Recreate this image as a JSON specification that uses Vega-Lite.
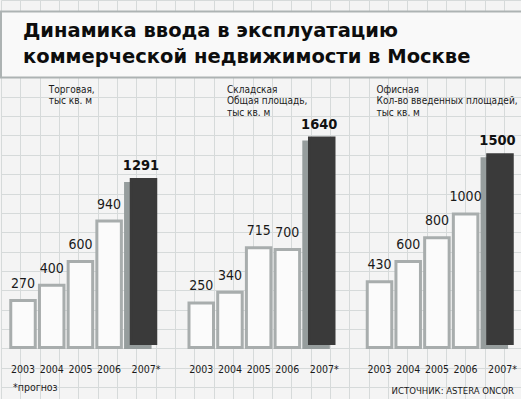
{
  "$schema": "https://vega.github.io/schema/vega-lite/v6.json",
  "padding": 0,
  "width": 521,
  "height": 399,
  "background": "#f4f4f4",
  "config": {"view": {"stroke": null, "fill": "#f4f4f4"}},
  "datasets": {
    "bars": [
      {"panel": "Т", "year": "2003", "value": 270},
      {"panel": "Т", "year": "2004", "value": 400},
      {"panel": "Т", "year": "2005", "value": 600},
      {"panel": "Т", "year": "2006", "value": 940},
      {"panel": "Т", "year": "2007*", "value": 1291},
      {"panel": "С", "year": "2003", "value": 250},
      {"panel": "С", "year": "2004", "value": 340},
      {"panel": "С", "year": "2005", "value": 715},
      {"panel": "С", "year": "2006", "value": 700},
      {"panel": "С", "year": "2007*", "value": 1640},
      {"panel": "О", "year": "2003", "value": 430},
      {"panel": "О", "year": "2004", "value": 600},
      {"panel": "О", "year": "2005", "value": 800},
      {"panel": "О", "year": "2006", "value": 1000},
      {"panel": "О", "year": "2007*", "value": 1500}
    ],
    "captions": [
      {"panel": "Т", "year": "2004", "caption": "Торговая,\nтыс кв. м"},
      {"panel": "С", "year": "2004", "caption": "Складская\nОбщая площадь,\nтыс кв. м"},
      {"panel": "О", "year": "2003", "caption": "Офисная\nКол-во введенных площадей,\nтыс кв. м"}
    ],
    "heading": [
      {"panel": "Т", "year": "2003", "title": "Динамика ввода в эксплуатацию\nкоммерческой недвижимости в Москве"}
    ],
    "notes": [
      {"panel": "Т", "year": "2003", "note": "*прогноз"}
    ],
    "source": [
      {"panel": "О", "year": "2007*", "note": "ИСТОЧНИК: ASTERA ONCOR"}
    ]
  },
  "resolve": {
    "scale": {"x": "independent", "y": "independent", "xOffset": "independent"},
    "axis": {"x": "independent", "y": "independent"}
  },
  "layer": [
    {
      "data": {"values": [{}]},
      "mark": {"type": "point", "opacity": 0, "size": 0, "strokeWidth": 0},
      "encoding": {
        "x": {"datum": 13, "type": "quantitative", "scale": {"domain": [0, 26.93], "nice": false, "zero": false},
              "axis": {"grid": true, "gridColor": "#d6dada", "gridWidth": 1, "labels": false, "ticks": false, "domain": false, "title": null, "tickCount": 27, "orient": "top"}},
        "y": {"datum": 10, "type": "quantitative", "scale": {"domain": [0, 20.62], "nice": false, "zero": false, "reverse": true},
              "axis": {"grid": true, "gridColor": "#d6dada", "gridWidth": 1, "labels": false, "ticks": false, "domain": false, "title": null, "tickCount": 21}}
      }
    },
    {
      "data": {"name": "heading"},
      "mark": {"type": "rect", "fill": "#f9f9f9", "stroke": "#adb3b3", "strokeWidth": 2, "xOffset": 8.5, "x2Offset": -8.5},
      "encoding": {
        "y": {"datum": 2706, "type": "quantitative", "scale": {"domain": [-559, 2803], "nice": false, "zero": false}, "axis": null},
        "y2": {"datum": 2150}
      }
    },
    {
      "data": {"name": "heading"},
      "mark": {"type": "text", "font": "DejaVu Sans", "fontWeight": "bold", "fontSize": 19.5, "lineBreak": "\n", "lineHeight": 26, "align": "left", "dx": 0, "baseline": "alphabetic", "color": "#0d0d0d"},
      "encoding": {
        "x": {"field": "panel", "type": "nominal", "scale": {"type": "band", "domain": ["Т", "С", "О"], "paddingInner": 0.1865, "paddingOuter": 0.0547}, "axis": null},
        "xOffset": {"field": "year", "type": "nominal", "scale": {"type": "band", "domain": ["2003", "2004", "2005", "2006", "2007*"], "paddingInner": 0.146, "paddingOuter": 0.099, "align": 0}},
        "y": {"datum": 2491, "type": "quantitative", "scale": {"domain": [-559, 2803], "nice": false, "zero": false}, "axis": null},
        "text": {"field": "title", "type": "nominal"}
      }
    },
    {
      "data": {"name": "bars"},
      "transform": [{"filter": "datum.year != '2007*'"}],
      "mark": {"type": "bar", "fill": "#fbfbfb", "stroke": "#a8adad", "strokeWidth": 3},
      "encoding": {
        "x": {"field": "panel", "type": "nominal", "scale": {"type": "band", "domain": ["Т", "С", "О"], "paddingInner": 0.1865, "paddingOuter": 0.0547}, "axis": null},
        "xOffset": {"field": "year", "type": "nominal", "scale": {"type": "band", "domain": ["2003", "2004", "2005", "2006", "2007*"], "paddingInner": 0.146, "paddingOuter": 0.099, "align": 0}},
        "y": {"field": "value", "type": "quantitative", "scale": {"domain": [-559, 2803], "nice": false, "zero": false}, "axis": null},
        "y2": {"datum": -125}
      }
    },
    {
      "data": {"name": "bars"},
      "transform": [{"filter": "datum.year == '2007*'"}],
      "mark": {"type": "bar", "fill": "#969d9d", "stroke": "#969d9d", "strokeWidth": 3, "yOffset": 4},
      "encoding": {
        "x": {"field": "panel", "type": "nominal", "scale": {"type": "band", "domain": ["Т", "С", "О"], "paddingInner": 0.1865, "paddingOuter": 0.0547}, "axis": null},
        "xOffset": {"field": "year", "type": "nominal", "scale": {"type": "band", "domain": ["2003", "2004", "2005", "2006", "2007*"], "paddingInner": 0.146, "paddingOuter": 0.099, "align": 0}},
        "y": {"field": "value", "type": "quantitative", "scale": {"domain": [-559, 2803], "nice": false, "zero": false}, "axis": null},
        "y2": {"datum": -125}
      }
    },
    {
      "data": {"name": "bars"},
      "transform": [{"filter": "datum.year == '2007*'"}],
      "mark": {"type": "bar", "fill": "#3a3a3a", "stroke": "#3a3a3a", "strokeWidth": 3, "y2Offset": -4},
      "encoding": {
        "x": {"field": "panel", "type": "nominal", "scale": {"type": "band", "domain": ["Т", "С", "О"], "paddingInner": 0.1865, "paddingOuter": 0.0547}, "axis": null},
        "xOffset": {"field": "year", "type": "nominal", "scale": {"type": "band", "domain": ["2003", "2004", "2005", "2006", "2007*"], "paddingInner": 0.146, "paddingOuter": 0.099, "align": 1}},
        "y": {"field": "value", "type": "quantitative", "scale": {"domain": [-559, 2803], "nice": false, "zero": false}, "axis": null},
        "y2": {"datum": -125}
      }
    },
    {
      "data": {"name": "bars"},
      "transform": [{"filter": "datum.year != '2007*'"}],
      "mark": {"type": "text", "font": "DejaVu Sans Condensed", "fontSize": 14, "dy": -12.5, "baseline": "alphabetic", "color": "#1a1a1a"},
      "encoding": {
        "x": {"field": "panel", "type": "nominal", "scale": {"type": "band", "domain": ["Т", "С", "О"], "paddingInner": 0.1865, "paddingOuter": 0.0547}, "axis": null},
        "xOffset": {"field": "year", "type": "nominal", "scale": {"type": "band", "domain": ["2003", "2004", "2005", "2006", "2007*"], "paddingInner": 0.146, "paddingOuter": 0.099, "align": 0}},
        "y": {"field": "value", "type": "quantitative", "scale": {"domain": [-559, 2803], "nice": false, "zero": false}, "axis": null},
        "text": {"field": "value", "type": "quantitative"}
      }
    },
    {
      "data": {"name": "bars"},
      "transform": [{"filter": "datum.year == '2007*'"}],
      "mark": {"type": "text", "font": "DejaVu Sans Condensed", "fontWeight": "bold", "fontSize": 14.5, "dx": -2.5, "dy": -9.5, "baseline": "alphabetic", "color": "#111111"},
      "encoding": {
        "x": {"field": "panel", "type": "nominal", "scale": {"type": "band", "domain": ["Т", "С", "О"], "paddingInner": 0.1865, "paddingOuter": 0.0547}, "axis": null},
        "xOffset": {"field": "year", "type": "nominal", "scale": {"type": "band", "domain": ["2003", "2004", "2005", "2006", "2007*"], "paddingInner": 0.146, "paddingOuter": 0.099, "align": 1}},
        "y": {"field": "value", "type": "quantitative", "scale": {"domain": [-559, 2803], "nice": false, "zero": false}, "axis": null},
        "text": {"field": "value", "type": "quantitative"}
      }
    },
    {
      "data": {"name": "bars"},
      "transform": [{"filter": "datum.year != '2007*'"}],
      "mark": {"type": "text", "font": "DejaVu Sans Condensed", "fontSize": 10.5, "dy": 25.5, "baseline": "alphabetic", "color": "#1a1a1a"},
      "encoding": {
        "x": {"field": "panel", "type": "nominal", "scale": {"type": "band", "domain": ["Т", "С", "О"], "paddingInner": 0.1865, "paddingOuter": 0.0547}, "axis": null},
        "xOffset": {"field": "year", "type": "nominal", "scale": {"type": "band", "domain": ["2003", "2004", "2005", "2006", "2007*"], "paddingInner": 0.146, "paddingOuter": 0.099, "align": 0}},
        "y": {"datum": -125, "type": "quantitative", "scale": {"domain": [-559, 2803], "nice": false, "zero": false}, "axis": null},
        "text": {"field": "year", "type": "nominal"}
      }
    },
    {
      "data": {"name": "bars"},
      "transform": [{"filter": "datum.year == '2007*'"}],
      "mark": {"type": "text", "font": "DejaVu Sans Condensed", "fontSize": 10.5, "dx": 2.5, "dy": 25.5, "baseline": "alphabetic", "color": "#1a1a1a"},
      "encoding": {
        "x": {"field": "panel", "type": "nominal", "scale": {"type": "band", "domain": ["Т", "С", "О"], "paddingInner": 0.1865, "paddingOuter": 0.0547}, "axis": null},
        "xOffset": {"field": "year", "type": "nominal", "scale": {"type": "band", "domain": ["2003", "2004", "2005", "2006", "2007*"], "paddingInner": 0.146, "paddingOuter": 0.099, "align": 1}},
        "y": {"datum": -125, "type": "quantitative", "scale": {"domain": [-559, 2803], "nice": false, "zero": false}, "axis": null},
        "text": {"field": "year", "type": "nominal"}
      }
    },
    {
      "data": {"name": "captions"},
      "mark": {"type": "text", "font": "DejaVu Sans Condensed", "fontSize": 10, "align": "left", "dx": -3, "baseline": "alphabetic", "lineBreak": "\n", "lineHeight": 11.5, "color": "#1a1a1a"},
      "encoding": {
        "x": {"field": "panel", "type": "nominal", "scale": {"type": "band", "domain": ["Т", "С", "О"], "paddingInner": 0.1865, "paddingOuter": 0.0547}, "axis": null},
        "xOffset": {"field": "year", "type": "nominal", "scale": {"type": "band", "domain": ["2003", "2004", "2005", "2006", "2007*"], "paddingInner": 0.146, "paddingOuter": 0.099, "align": 0}},
        "y": {"datum": 2020, "type": "quantitative", "scale": {"domain": [-559, 2803], "nice": false, "zero": false}, "axis": null},
        "text": {"field": "caption", "type": "nominal"}
      }
    },
    {
      "data": {"name": "notes"},
      "mark": {"type": "text", "font": "DejaVu Sans Condensed", "fontSize": 10.5, "align": "left", "dx": -10, "dy": 43.5, "baseline": "alphabetic", "color": "#1a1a1a"},
      "encoding": {
        "x": {"field": "panel", "type": "nominal", "scale": {"type": "band", "domain": ["Т", "С", "О"], "paddingInner": 0.1865, "paddingOuter": 0.0547}, "axis": null},
        "xOffset": {"field": "year", "type": "nominal", "scale": {"type": "band", "domain": ["2003", "2004", "2005", "2006", "2007*"], "paddingInner": 0.146, "paddingOuter": 0.099, "align": 0}},
        "y": {"datum": -125, "type": "quantitative", "scale": {"domain": [-559, 2803], "nice": false, "zero": false}, "axis": null},
        "text": {"field": "note", "type": "nominal"}
      }
    },
    {
      "data": {"name": "source"},
      "mark": {"type": "text", "font": "DejaVu Sans Condensed", "fontSize": 9.5, "align": "right", "dx": 14, "dy": 46.5, "baseline": "alphabetic", "color": "#1a1a1a"},
      "encoding": {
        "x": {"field": "panel", "type": "nominal", "scale": {"type": "band", "domain": ["Т", "С", "О"], "paddingInner": 0.1865, "paddingOuter": 0.0547}, "axis": null},
        "xOffset": {"field": "year", "type": "nominal", "scale": {"type": "band", "domain": ["2003", "2004", "2005", "2006", "2007*"], "paddingInner": 0.146, "paddingOuter": 0.099, "align": 1}},
        "y": {"datum": -125, "type": "quantitative", "scale": {"domain": [-559, 2803], "nice": false, "zero": false}, "axis": null},
        "text": {"field": "note", "type": "nominal"}
      }
    }
  ]
}
